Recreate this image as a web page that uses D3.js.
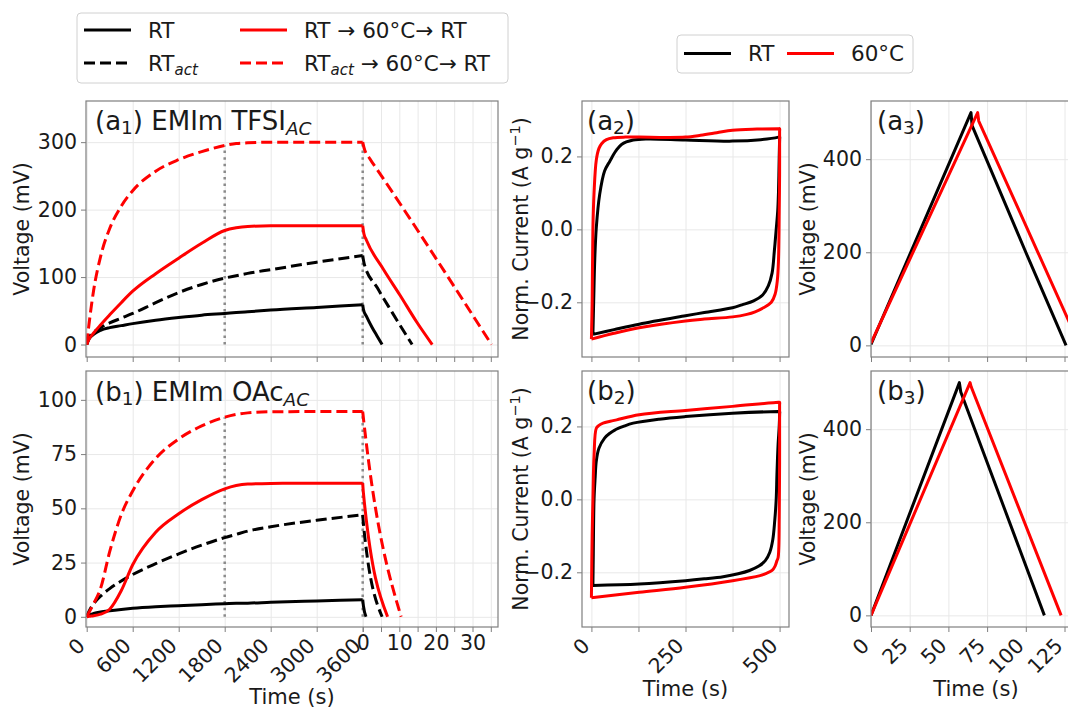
<!DOCTYPE html>
<html>
<head>
<meta charset="utf-8">
<script src="https://cdn.jsdelivr.net/npm/d3@7"></script>
<style>
  body { margin: 0; background: #fff; }
  svg { font-family: "DejaVu Sans", sans-serif; }
  .grid line { stroke: #e8e8e8; stroke-width: 1; }
  .grid .domain { display: none; }
  .axis .domain { display: none; }
  .axis line { stroke: #7f7f7f; stroke-width: 1; }
  .axis text { font-size: 20.5px; fill: #1a1a1a; font-family: "DejaVu Sans", sans-serif; }
</style>
</head>
<body>
<svg id="fig" width="1068" height="708"></svg>
<script>
// ---- charge / self-discharge (a1, b1) ----
const chargeTime = [0, 30, 90, 180, 300, 450, 600, 900, 1200, 1500, 1800, 1950, 2100, 2400, 3000, 3600];

const a1Rt        = [0, 8, 15, 21, 25, 28, 31, 36, 40, 43.5, 46, 47.3, 48.5, 51, 55, 59];
const a1RtAct     = [0, 10, 18, 25, 32, 39, 46, 62, 77, 89, 98.5, 102, 105.5, 111, 122, 132];
const a1RtHeat    = [0, 8, 17, 29, 44, 62, 79, 105, 128, 150, 169, 173, 175, 176, 176, 176];
const a1RtActHeat = [0, 30, 80, 130, 172, 205, 228, 257, 274, 286, 295, 298, 299, 300, 300, 300];

const b1Rt        = [0, 0.8, 1.5, 2.2, 2.8, 3.4, 3.9, 4.6, 5.1, 5.6, 6.0, 6.2, 6.3, 6.7, 7.3, 7.9];
const b1RtAct     = [0, 2.5, 6, 9.5, 13, 16.5, 19.5, 24.5, 29, 33, 36.5, 38, 39.5, 41.5, 44.5, 47];
const b1RtHeat    = [0, 0.2, 0.5, 1.2, 3.5, 12, 24, 39, 47.5, 54, 59, 60.5, 61.2, 61.5, 61.6, 61.6];
const b1RtActHeat = [0, 2, 6, 13, 30, 47, 58, 73, 82, 88, 92, 93.3, 94, 94.5, 94.6, 94.6];

// discharge after the hold (time restarts at 0)
const a1RtDisT = [0, 0.2, 1, 2.5, 4, 5.3];
const a1RtDisV = [59, 52, 42, 26, 12, 0];
const a1RtActDisT = [0, 0.4, 4, 8, 13.5];
const a1RtActDisV = [132, 120, 84, 48, 0];
const a1RtHeatDisT = [0, 0.3, 1, 5.6, 10.2, 14.8, 19];
const a1RtHeatDisV = [176, 165, 155, 112, 73, 33, 0];
const a1RtActHeatDisT = [0, 0.3, 2, 4, 35.2];
const a1RtActHeatDisV = [300, 293, 275, 259, 0];

const b1RtDisT = [0, 0.2, 0.9];
const b1RtDisV = [7.9, 5, 0];
const b1RtActDisT = [0, 0.3, 5.3];
const b1RtActDisV = [47, 41, 0];
const b1RtHeatDisT = [0, 0.2, 6.8];
const b1RtHeatDisV = [61.6, 57, 0];
const b1RtActHeatDisT = [0, 0.3, 10.5];
const b1RtActHeatDisV = [94.6, 90, 0];

const holdMarks = [1800, 3600];

// ---- CV loops (a2, b2) ----
const a2RtT = [4, 6, 9, 13, 22, 35, 49, 65, 80, 111, 150, 250, 375, 450, 497, 500, 500, 499, 497, 495, 491, 486, 480, 470, 455, 431, 400, 375, 300, 250, 127, 60, 4];
const a2RtI = [-0.288, -0.2, -0.08, 0.005, 0.096, 0.16, 0.187, 0.215, 0.233, 0.245, 0.248, 0.245, 0.242, 0.246, 0.253, 0.254, 0.246, 0.2, 0.1, 0.05, 0, -0.06, -0.12, -0.155, -0.18, -0.196, -0.207, -0.215, -0.228, -0.237, -0.26, -0.275, -0.288];
const a2HotT = [0, 2, 4, 7, 13, 20, 27, 40, 58, 90, 127, 200, 250, 290, 333, 375, 440, 497, 500, 500, 500, 499, 497, 494, 488, 478, 457, 435, 413, 375, 300, 250, 127, 60, 0];
const a2HotI = [-0.301, -0.2, 0, 0.1, 0.19, 0.222, 0.235, 0.246, 0.251, 0.253, 0.253, 0.252, 0.253, 0.258, 0.265, 0.272, 0.275, 0.276, 0.276, 0.268, 0.15, 0.05, -0.087, -0.14, -0.178, -0.2, -0.215, -0.226, -0.233, -0.24, -0.246, -0.251, -0.27, -0.285, -0.301];

const b2RtT = [4, 5, 7, 10, 13, 20, 35, 50, 62, 85, 111, 180, 250, 375, 497, 500, 500, 499, 496, 493, 491, 487, 482, 474, 462, 445, 420, 390, 350, 300, 250, 127, 4];
const b2RtI = [-0.236, -0.15, 0, 0.06, 0.105, 0.14, 0.168, 0.182, 0.19, 0.2, 0.209, 0.22, 0.227, 0.236, 0.241, 0.241, 0.234, 0.2, 0.15, 0.07, 0, -0.06, -0.11, -0.145, -0.168, -0.183, -0.195, -0.204, -0.212, -0.218, -0.223, -0.232, -0.236];
const b2HotT = [0, 2, 4, 7, 13, 20, 31, 50, 67, 127, 250, 375, 497, 500, 500, 500, 499, 498, 496, 493, 488, 480, 465, 448, 375, 250, 127, 0];
const b2HotI = [-0.27, -0.1, 0, 0.12, 0.195, 0.203, 0.209, 0.214, 0.218, 0.232, 0.244, 0.255, 0.266, 0.266, 0.258, 0.1, -0.05, -0.13, -0.16, -0.168, -0.183, -0.195, -0.203, -0.209, -0.223, -0.241, -0.255, -0.27];

// ---- galvanostatic cycles (a3, b3) ----
const a3RtT = [0, 64.6, 65.3, 100, 126];
const a3RtV = [2, 500, 472, 200, 0];
const a3HotT = [0, 68.9, 69.6, 107.8, 134.8];
const a3HotV = [5, 500, 482, 200, 0];
const b3RtT = [0, 57.1, 58, 112];
const b3RtV = [0, 500, 480, 0];
const b3HotT = [0, 64, 64.7, 122.8];
const b3HotV = [0, 500, 491, 0];

// ---- ticks ----
const chargeTicks = [0, 600, 1200, 1800, 2400, 3000, 3600];
const dischargeTicks = [0, 5, 10, 15, 20, 25, 30, 35];
const dischargeLabels = [0, 10, 20, 30];
const a1YTicks = [0, 100, 200, 300];
const b1YTicks = [0, 25, 50, 75, 100];
const cvXTicks = [0, 125, 250, 375, 500];
const cvXLabels = [0, 250, 500];
const cvYTicks = [-0.2, 0, 0.2];
const gcdXTicks = [0, 25, 50, 75, 100, 125];
const gcdYTicks = [0, 200, 400];

const RED = "#ff0000", BLACK = "#000000";
const LW = 3, DASH = "11,5";

const svg = d3.select("#fig");
svg.append("rect").attr("width", 1068).attr("height", 708).attr("fill", "#fff");

const zip = (t, v) => t.map((d, i) => [d, v[i]]);
let clipId = 0;

function makePanel(box) {
  const g = svg.append("g");
  const id = "clip" + (clipId++);
  g.append("clipPath").attr("id", id).append("rect")
    .attr("x", box.x0).attr("y", box.y0)
    .attr("width", box.x1 - box.x0).attr("height", box.y1 - box.y0);
  const grid = g.append("g");
  const plot = g.append("g").attr("clip-path", `url(#${id})`);
  const top = g.append("g");
  return { g, grid, plot, top, box };
}

function gridX(p, scale, ticks) {
  p.grid.append("g").attr("class", "grid")
    .attr("transform", `translate(0,${p.box.y1})`)
    .call(d3.axisBottom(scale).tickValues(ticks).tickSize(-(p.box.y1 - p.box.y0)).tickFormat(""));
}
function gridY(p, scale, ticks) {
  p.grid.append("g").attr("class", "grid")
    .attr("transform", `translate(${p.box.x0},0)`)
    .call(d3.axisLeft(scale).tickValues(ticks).tickSize(-(p.box.x1 - p.box.x0)).tickFormat(""));
}
function frame(p) {
  p.top.append("rect")
    .attr("x", p.box.x0).attr("y", p.box.y0)
    .attr("width", p.box.x1 - p.box.x0).attr("height", p.box.y1 - p.box.y0)
    .attr("fill", "none").attr("stroke", "#7f7f7f").attr("stroke-width", 1.2);
}
function yAxis(p, scale, ticks, fmt) {
  p.top.append("g").attr("class", "axis")
    .attr("transform", `translate(${p.box.x0},0)`)
    .call(d3.axisLeft(scale).tickValues(ticks).tickSize(5).tickPadding(4).tickFormat(fmt));
}
function xAxis(p, scale, ticks, fmt, rotate) {
  const a = p.top.append("g").attr("class", "axis")
    .attr("transform", `translate(0,${p.box.y1})`)
    .call(d3.axisBottom(scale).tickValues(ticks).tickSize(5).tickPadding(3).tickFormat(fmt));
  if (rotate) {
    a.selectAll("text")
      .attr("y", 0).attr("dy", 0)
      .attr("text-anchor", "end")
      .attr("transform", "translate(-1,20) rotate(-45)");
  }
  return a;
}

function panelLabel(p, x, y, letter, num, rest, sub) {
  const t = p.top.append("text").attr("x", x).attr("y", y)
    .attr("font-size", "26px").attr("fill", "#1a1a1a");
  t.append("tspan").text("(" + letter);
  t.append("tspan").attr("font-size", "18.5px").attr("dy", 4).text(num);
  t.append("tspan").attr("dy", -4).text(")" + (rest ? " " + rest : ""));
  if (sub) t.append("tspan").attr("font-size", "18.5px").attr("font-style", "italic").attr("dy", 4.5).text(sub);
}

function yLabel(cx, cy, build) {
  const t = svg.append("text")
    .attr("transform", `translate(${cx},${cy}) rotate(-90)`)
    .attr("text-anchor", "middle").attr("dy", "0.35em")
    .attr("font-size", "20.5px").attr("fill", "#1a1a1a");
  build(t);
}
const voltLabel = t => t.text("Voltage (mV)");
const currLabel = t => {
  t.append("tspan").text("Norm. Current (A g");
  t.append("tspan").attr("font-size", "14.5px").attr("dy", -8).text("\u22121");
  t.append("tspan").attr("dy", 8).text(")");
};
function xLabel(cx, y) {
  svg.append("text").attr("x", cx).attr("y", y).attr("text-anchor", "middle")
    .attr("font-size", "21px").attr("fill", "#1a1a1a").text("Time (s)");
}

// ================= a1 / b1 =================
function selfDischargePanel(box, yDomain, yTicks, series, showLabels) {
  const p = makePanel(box);
  const xc = d3.scaleLinear().domain([0, 3600]).range([box.x0 + 0.7, box.x0 + 276.7]);
  const xd = d3.scaleLinear().domain([0, 37]).range([box.x0 + 276.7, box.x0 + 276.7 + 37 * 3.66]);
  const y = d3.scaleLinear().domain(yDomain).range([box.y1, box.y0]);

  gridX(p, xc, chargeTicks);
  gridX(p, xd, dischargeTicks);
  gridY(p, y, yTicks);

  // hold markers up to the highest curve
  const hot = series[3];
  holdMarks.forEach(tm => {
    const v = hot.charge[chargeTime.indexOf(tm)];
    p.plot.append("line")
      .attr("x1", xc(tm)).attr("x2", xc(tm)).attr("y1", y(0)).attr("y2", y(v))
      .attr("stroke", "#8a8a8a").attr("stroke-width", 2.5).attr("stroke-dasharray", "2.5,4.1");
  });

  const lineC = d3.line().x(d => xc(d[0])).y(d => y(d[1])).curve(d3.curveMonotoneX);
  const lineD = d3.line().x(d => xd(d[0])).y(d => y(d[1])).curve(d3.curveMonotoneX);
  series.forEach(s => {
    [lineC(zip(chargeTime, s.charge)), lineD(zip(s.disT, s.disV))].forEach(dp => {
      p.plot.append("path").attr("d", dp).attr("fill", "none")
        .attr("stroke", s.color).attr("stroke-width", LW)
        .attr("stroke-dasharray", s.dashed ? DASH : null);
    });
  });

  frame(p);
  yAxis(p, y, yTicks, d3.format("d"));
  xAxis(p, xc, chargeTicks, showLabels ? d3.format("d") : "", showLabels);
  xAxis(p, xd, dischargeTicks, showLabels ? (d => dischargeLabels.includes(d) ? d : "") : "", false);
  return p;
}

const pA1 = selfDischargePanel({ x0: 86, x1: 498, y0: 101, y1: 357 }, [-18.5, 361], a1YTicks, [
  { charge: a1Rt, disT: a1RtDisT, disV: a1RtDisV, color: BLACK, dashed: false },
  { charge: a1RtAct, disT: a1RtActDisT, disV: a1RtActDisV, color: BLACK, dashed: true },
  { charge: a1RtHeat, disT: a1RtHeatDisT, disV: a1RtHeatDisV, color: RED, dashed: false },
  { charge: a1RtActHeat, disT: a1RtActHeatDisT, disV: a1RtActHeatDisV, color: RED, dashed: true }
], false);
panelLabel(pA1, 95, 130, "a", "1", "EMIm TFSI", "AC");

const pB1 = selfDischargePanel({ x0: 86, x1: 498, y0: 371, y1: 627 }, [-4.7, 113.3], b1YTicks, [
  { charge: b1Rt, disT: b1RtDisT, disV: b1RtDisV, color: BLACK, dashed: false },
  { charge: b1RtAct, disT: b1RtActDisT, disV: b1RtActDisV, color: BLACK, dashed: true },
  { charge: b1RtHeat, disT: b1RtHeatDisT, disV: b1RtHeatDisV, color: RED, dashed: false },
  { charge: b1RtActHeat, disT: b1RtActHeatDisT, disV: b1RtActHeatDisV, color: RED, dashed: true }
], true);
panelLabel(pB1, 95, 401, "b", "1", "EMIm OAc", "AC");

// ================= a2 / b2 =================
function cvPanel(box, loops, showLabels) {
  const p = makePanel(box);
  const x = d3.scaleLinear().domain([-25, 525]).range([box.x0, box.x1]);
  const y = d3.scaleLinear().domain([-0.35, 0.352]).range([box.y1, box.y0]);
  gridX(p, x, cvXTicks);
  gridY(p, y, cvYTicks);
  const line = d3.line().x(d => x(d[0])).y(d => y(d[1])).curve(d3.curveCatmullRom.alpha(0.5));
  loops.forEach(l => {
    p.plot.append("path").attr("d", line(zip(l.t, l.i))).attr("fill", "none")
      .attr("stroke", l.color).attr("stroke-width", LW).attr("stroke-linejoin", "round");
  });
  frame(p);
  yAxis(p, y, cvYTicks, d3.format(".1f"));
  xAxis(p, x, cvXTicks, showLabels ? (d => cvXLabels.includes(d) ? d : "") : "", showLabels);
  return p;
}
const pA2 = cvPanel({ x0: 582, x1: 789, y0: 101, y1: 357 }, [
  { t: a2RtT, i: a2RtI, color: BLACK },
  { t: a2HotT, i: a2HotI, color: RED }
], false);
panelLabel(pA2, 587, 130, "a", "2");
const pB2 = cvPanel({ x0: 582, x1: 789, y0: 371, y1: 627 }, [
  { t: b2RtT, i: b2RtI, color: BLACK },
  { t: b2HotT, i: b2HotI, color: RED }
], true);
panelLabel(pB2, 587, 400, "b", "2");

// ================= a3 / b3 =================
function gcdPanel(box, curves, showLabels) {
  const p = makePanel(box);
  const x = d3.scaleLinear().domain([0, 135]).range([box.x0, box.x0 + 135 * 1.548]);
  const y = d3.scaleLinear().domain([-25, 525]).range([box.y1, box.y0]);
  gridX(p, x, gcdXTicks);
  gridY(p, y, gcdYTicks);
  const line = d3.line().x(d => x(d[0])).y(d => y(d[1]));
  curves.forEach(c => {
    p.plot.append("path").attr("d", line(zip(c.t, c.v))).attr("fill", "none")
      .attr("stroke", c.color).attr("stroke-width", LW).attr("stroke-linejoin", "round");
  });
  frame(p);
  yAxis(p, y, gcdYTicks, d3.format("d"));
  xAxis(p, x, gcdXTicks, showLabels ? d3.format("d") : "", showLabels);
  return p;
}
const pA3 = gcdPanel({ x0: 871, x1: 1080, y0: 101, y1: 357 }, [
  { t: a3RtT, v: a3RtV, color: BLACK },
  { t: a3HotT, v: a3HotV, color: RED }
], false);
panelLabel(pA3, 877, 130, "a", "3");
const pB3 = gcdPanel({ x0: 871, x1: 1080, y0: 371, y1: 627 }, [
  { t: b3RtT, v: b3RtV, color: BLACK },
  { t: b3HotT, v: b3HotV, color: RED }
], true);
panelLabel(pB3, 877, 400, "b", "3");

// ---- axis titles ----
yLabel(22, 229, voltLabel);
yLabel(22, 499, voltLabel);
yLabel(521, 229, currLabel);
yLabel(521, 499, currLabel);
yLabel(808, 229, voltLabel);
yLabel(808, 499, voltLabel);
xLabel(292, 704);
xLabel(685.5, 696);
xLabel(976, 696);

// ---- legends ----
const LEG_FS = "21.5px", LEG_SUB = "15px";
const legendA = svg.append("g");
legendA.append("rect").attr("x", 77).attr("y", 13).attr("width", 431).attr("height", 70).attr("rx", 4)
  .attr("fill", "#fff").attr("stroke", "#d0d0d0").attr("stroke-width", 1);
const legendItemsA = [
  { x: 84, y: 30, color: BLACK, dashed: false, parts: [["RT"]] },
  { x: 84, y: 63, color: BLACK, dashed: true, parts: [["RT"], ["act", "sub"]] },
  { x: 240, y: 30, color: RED, dashed: false, parts: [["RT \u2192 60\u00b0C\u2192 RT"]] },
  { x: 240, y: 63, color: RED, dashed: true, parts: [["RT"], ["act", "sub"], [" \u2192 60\u00b0C\u2192 RT", "back"]] }
];
legendItemsA.forEach(it => {
  legendA.append("line").attr("x1", it.x).attr("x2", it.x + 47).attr("y1", it.y).attr("y2", it.y)
    .attr("stroke", it.color).attr("stroke-width", LW).attr("stroke-dasharray", it.dashed ? DASH : null);
  const t = legendA.append("text").attr("x", it.x + 64).attr("y", it.y).attr("dy", "0.35em")
    .attr("font-size", LEG_FS).attr("fill", "#1a1a1a");
  it.parts.forEach(pt => {
    const s = t.append("tspan").text(pt[0]);
    if (pt[1] === "sub") s.attr("font-size", LEG_SUB).attr("font-style", "italic").attr("dy", 4);
    if (pt[1] === "back") s.attr("dy", -4);
  });
});

const legendB = svg.append("g");
legendB.append("rect").attr("x", 677).attr("y", 35).attr("width", 236).attr("height", 38).attr("rx", 4)
  .attr("fill", "#fff").attr("stroke", "#d0d0d0").attr("stroke-width", 1);
[{ x: 684, color: BLACK, label: "RT" }, { x: 787, color: RED, label: "60\u00b0C" }].forEach(it => {
  legendB.append("line").attr("x1", it.x).attr("x2", it.x + 47).attr("y1", 53.5).attr("y2", 53.5)
    .attr("stroke", it.color).attr("stroke-width", LW);
  legendB.append("text").attr("x", it.x + 64).attr("y", 53.5).attr("dy", "0.35em")
    .attr("font-size", LEG_FS).attr("fill", "#1a1a1a").text(it.label);
});
</script>
</body>
</html>
